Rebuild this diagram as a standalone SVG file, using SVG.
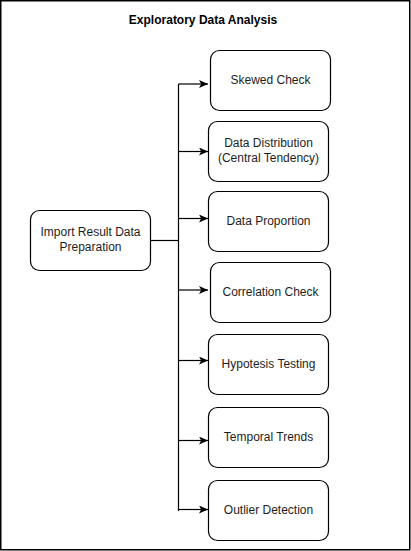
<svg xmlns="http://www.w3.org/2000/svg" width="411" height="551" viewBox="0 0 411 551">
<style>
.node rect{fill:#fff;stroke:#000;stroke-width:1.2}
.node text{font-family:"Liberation Sans",Arial,sans-serif;font-size:12px;fill:#1e1e1e;text-anchor:middle;dominant-baseline:central}
.title{font-family:"Liberation Sans",Arial,sans-serif;font-size:12px;font-weight:bold;fill:#000;text-anchor:middle}
.edge{fill:none;stroke:#000;stroke-width:1.2}
</style>
<defs>
<marker id="arr" markerUnits="userSpaceOnUse" markerWidth="10" markerHeight="10" refX="9" refY="4" orient="auto">
<path d="M0,0 L9,4 L0,8 L2.2,4 z" fill="#000"/>
</marker>
</defs>
<rect x="0.75" y="0.75" width="409" height="549" fill="#fff" stroke="#000" stroke-width="1.5"/>
<text class="title" x="203" y="24">Exploratory Data Analysis</text>
<g id="connectors">
<path class="edge" d="M150.5 240.5 H178.5"/>
<path class="edge" d="M178.5 84 V511"/>
<path class="edge" d="M178.5 84 H208" marker-end="url(#arr)"/>
<path class="edge" d="M178.5 151.5 H208" marker-end="url(#arr)"/>
<path class="edge" d="M178.5 218.5 H208" marker-end="url(#arr)"/>
<path class="edge" d="M178.5 290 H208" marker-end="url(#arr)"/>
<path class="edge" d="M178.5 360.5 H208" marker-end="url(#arr)"/>
<path class="edge" d="M178.5 440.5 H208" marker-end="url(#arr)"/>
<path class="edge" d="M178.5 509.5 H208" marker-end="url(#arr)"/>
</g>
<g id="import" class="node"><rect x="30.5" y="210.5" width="120" height="60" rx="9"/><text x="90.5" y="232">Import Result Data</text><text x="90.5" y="247">Preparation</text></g>
<g id="skewed" class="node"><rect x="210.5" y="50.5" width="120" height="60" rx="9"/><text x="270.5" y="79.5">Skewed Check</text></g>
<g id="distribution" class="node"><rect x="208.5" y="121.5" width="120" height="60" rx="9"/><text x="268.5" y="143">Data Distribution</text><text x="268.5" y="158">(Central Tendency)</text></g>
<g id="proportion" class="node"><rect x="208.5" y="191.5" width="120" height="60" rx="9"/><text x="268.5" y="220.5">Data Proportion</text></g>
<g id="correlation" class="node"><rect x="210.5" y="262.5" width="120" height="60" rx="9"/><text x="270.5" y="291.5">Correlation Check</text></g>
<g id="hypotesis" class="node"><rect x="208.5" y="334.5" width="120" height="60" rx="9"/><text x="268.5" y="363.5">Hypotesis Testing</text></g>
<g id="temporal" class="node"><rect x="208.5" y="407.5" width="120" height="60" rx="9"/><text x="268.5" y="436.5">Temporal Trends</text></g>
<g id="outlier" class="node"><rect x="208.5" y="480.5" width="120" height="60" rx="9"/><text x="268.5" y="509.5">Outlier Detection</text></g>
</svg>
